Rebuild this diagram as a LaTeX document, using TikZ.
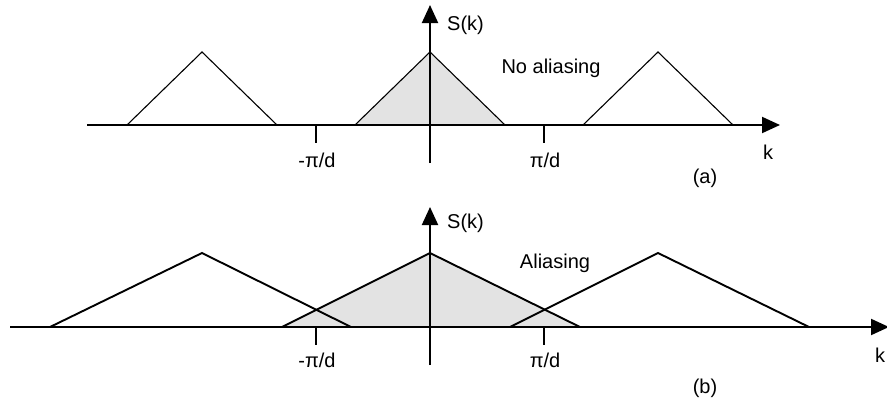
\documentclass[tikz,border=0pt]{standalone}
\usepackage{fontspec}
\setmainfont{Liberation Sans}
\usetikzlibrary{arrows.meta}
\tikzset{
  axis/.style={line width=2pt,-{Triangle[length=18pt,width=16pt]}},
  tick/.style={line width=2pt},
  thintri/.style={line width=1.1pt},
  thicktri/.style={line width=1.9pt},
  shade/.style={fill=black!11},
  lbl/.style={font=\fontsize{20}{23}\selectfont,inner sep=0pt}
}
\begin{document}
\begin{tikzpicture}[x=1pt,y=-1pt]
\useasboundingbox (0,0) rectangle (887,399);
% ---------- panel (a) ----------
\coordinate (ah0) at (87,125);
\coordinate (ah1) at (780,125);
\coordinate (av0) at (430,163);
\coordinate (av1) at (430,5);
\coordinate (acl) at (355,125); \coordinate (acp) at (430,52); \coordinate (acr) at (505,125);
\coordinate (all) at (127,125); \coordinate (alp) at (202,52); \coordinate (alr) at (277,125);
\coordinate (arl) at (583,125); \coordinate (arp) at (658,52); \coordinate (arr) at (733,125);
\coordinate (at1a) at (316,125); \coordinate (at1b) at (316,143);
\coordinate (at2a) at (544,125); \coordinate (at2b) at (544,143);
\fill[shade] (acl) -- (acp) -- (acr) -- cycle;
\draw[thintri] (acl) -- (acp) -- (acr);
\draw[thintri] (all) -- (alp) -- (alr);
\draw[thintri] (arl) -- (arp) -- (arr);
\draw[axis] (ah0) -- (ah1);
\draw[axis] (av0) -- (av1);
\draw[tick] (at1a) -- (at1b);
\draw[tick] (at2a) -- (at2b);
\node[lbl,anchor=west] (aS) at (447,25) {S(k)};
\node[lbl] (aNo) at (551,68) {No aliasing};
\node[lbl] (am) at (317,160) {-π/d};
\node[lbl] (ap) at (545,160) {π/d};
\node[lbl] (ak) at (768,152) {k};
\node[lbl] (aa) at (705,178) {(a)};
% ---------- panel (b) ----------
\coordinate (bh0) at (10,327);
\coordinate (bh1) at (889,327);
\coordinate (bv0) at (430,365);
\coordinate (bv1) at (430,207);
\coordinate (bcl) at (282,327); \coordinate (bcp) at (430,253); \coordinate (bcr) at (580,327);
\coordinate (bll) at (50,327); \coordinate (blp) at (202,253); \coordinate (blr) at (351,327);
\coordinate (brl) at (510,327); \coordinate (brp) at (658,253); \coordinate (brr) at (809,327);
\coordinate (bt1a) at (316,327); \coordinate (bt1b) at (316,345);
\coordinate (bt2a) at (544,327); \coordinate (bt2b) at (544,345);
\fill[shade] (bcl) -- (bcp) -- (bcr) -- cycle;
\draw[thicktri] (bcl) -- (bcp) -- (bcr);
\draw[thicktri] (bll) -- (blp) -- (blr);
\draw[thicktri] (brl) -- (brp) -- (brr);
\draw[axis] (bh0) -- (bh1);
\draw[axis] (bv0) -- (bv1);
\draw[tick] (bt1a) -- (bt1b);
\draw[tick] (bt2a) -- (bt2b);
\node[lbl,anchor=west] (bS) at (447,223) {S(k)};
\node[lbl] (bAl) at (555,263) {Aliasing};
\node[lbl] (bm) at (317,360) {-π/d};
\node[lbl] (bp) at (545,360) {π/d};
\node[lbl] (bk) at (880,355) {k};
\node[lbl] (bb) at (705,388) {(b)};
\end{tikzpicture}
\end{document}
